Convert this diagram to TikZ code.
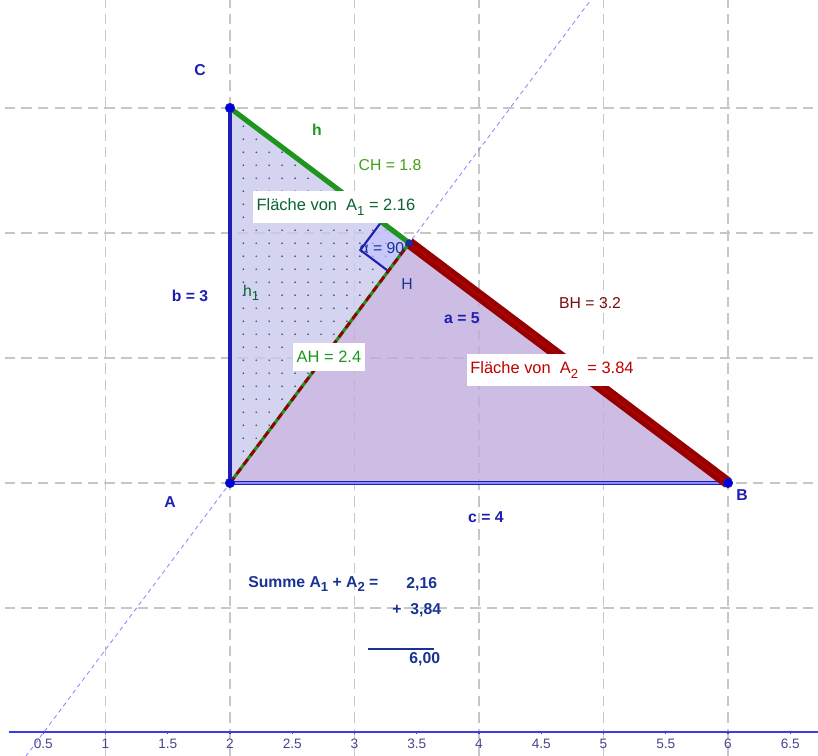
\documentclass[tikz,border=0pt]{standalone}
\usepackage{fontspec}
\setmainfont{Liberation Sans}
\usetikzlibrary{calc}
\definecolor{ggblue}{RGB}{30,30,180}
\definecolor{ggdblue}{RGB}{25,50,150}
\definecolor{gggreen}{RGB}{30,150,30}
\definecolor{gglime}{RGB}{60,160,20}
\definecolor{ggdgreen}{RGB}{10,100,50}
\definecolor{ggred}{RGB}{150,0,0}
\definecolor{ggdred}{RGB}{120,10,10}
\definecolor{ggfillone}{RGB}{201,201,238}
\definecolor{ggfilltwo}{RGB}{193,171,221}
\definecolor{ggaxis}{RGB}{60,60,230}
\definecolor{ggtick}{RGB}{70,70,140}
\newcommand{\idx}[1]{\raisebox{-0.55ex}{\fontsize{7.5}{8}\selectfont#1}}
\tikzset{
  gridline/.style={color=black!22, line width=0.9pt, dash pattern=on 6pt off 3.5pt},
  auxline/.style={color=blue!45, line width=0.5pt, dash pattern=on 2.5pt off 2pt},
  ptdot/.style={circle, fill=blue!85!black, draw=ggblue, line width=0.4pt, inner sep=0pt, minimum size=5.4pt},
  boxlabel/.style={fill=white, inner xsep=2pt, inner ysep=4.5pt, font=\fontsize{9.4}{11}\selectfont},
  every node/.style={font=\fontsize{9}{11}\selectfont}
}
\begin{document}
\begin{tikzpicture}[x=2.5cm, y=2.51cm]
		%%%%% START %%%%%
		\useasboundingbox (0.1526,-2.184) rectangle (6.723,3.864);
		
		\coordinate (A) at (2,0);
		\coordinate (B) at (6,0);
		\coordinate (C) at (2,3);
		\coordinate (H) at (3.44,1.92);
		
		% grid
		\foreach \x in {1,...,6}
			\draw[gridline] (\x,-2.184) -- (\x,3.864);
		\foreach \y in {-1,...,3}
			\draw[gridline] (0.19,\y) -- (6.723,\y);
		
		% x axis
		\draw[color=ggaxis, line width=1.1pt] (0.225,-1.99) -- (6.723,-1.99);
		\foreach \x in {0.5,1,1.5,2,2.5,3,3.5,4,4.5,5,5.5,6,6.5} {
			\draw[color=ggaxis, line width=0.8pt] (\x,-1.99) -- (\x,-2.01);
			\node[text=ggtick, font=\fontsize{7.8}{9}\selectfont] (tick\x) at (\x,-2.086) {\x};
		}
		
		% areas
		\fill[ggfilltwo, fill opacity=0.8] (A) -- (H) -- (B) -- cycle;
		\fill[ggfillone, fill opacity=0.8] (A) -- (H) -- (C) -- cycle;
		\begin{scope}
			\clip (A) -- (H) -- (C) -- cycle;
			\foreach \x in {2.003,2.107,...,3.46}
				\foreach \y in {0.046,0.150,...,3.0}
					\fill[color=black!65!blue!70] (\x,\y) circle (0.55pt);
		\end{scope}
		
		% right angle at H
		\coordinate (sqC) at ($(H)!0.156!(C)$);
		\coordinate (sqA) at ($(H)!0.117!(A)$);
		\coordinate (sqM) at ($(sqC)+(sqA)-(H)$);
		\draw[color=ggblue, fill=blue!25, fill opacity=0.6, line width=1.2pt] (H) -- (sqC) -- (sqM) -- (sqA) -- cycle;
		
		% dashed line through A and H
		\draw[auxline] ($(A)!-1.14!(H)$) -- ($(A)!2.02!(H)$);
		
		% sides
		\draw[color=ggblue, line width=2.3pt] (A) -- (C);
		\draw[color=ggblue, line width=0.8pt, double=blue!45, double distance=0.7pt] (A) -- (B);
		\draw[color=gggreen, line width=2.9pt] (C) -- (H);
		\draw[color=ggred, line width=2.9pt, double=red!75!black, double distance=0.6pt] (H) -- (B);
		\draw[color=gggreen, line width=1.8pt] (A) -- (H);
		\draw[color=ggred, line width=1.6pt, dash pattern=on 4pt off 2.5pt] (A) -- (H);
		
		% points
		\node[ptdot] (ptA) at (A) {};
		\node[ptdot] (ptB) at (B) {};
		\node[ptdot] (ptC) at (C) {};
		\node[ptdot, minimum size=3.8pt, fill=ggdblue] (ptH) at (H) {};
		
		% labels
		\node[text=ggblue, font=\fontsize{9}{11}\selectfont\bfseries] (lblC) at (1.759,3.304) {C};
		\node[text=ggblue, font=\fontsize{9}{11}\selectfont\bfseries] (lblA) at (1.518,-0.152) {A};
		\node[text=ggblue, font=\fontsize{9}{11}\selectfont\bfseries] (lblB) at (6.112,-0.096) {B};
		\node[text=ggdblue] (lblH) at (3.422,1.592) {H};
		\node[text=gggreen, font=\fontsize{9}{11}\selectfont\bfseries] (lblh) at (2.699,2.824) {h};
		\node[text=ggdgreen] (lblhone) at (2.169,1.52) {h\idx{1}};
		\node[text=ggblue, font=\fontsize{9}{11}\selectfont\bfseries] (lblb) at (1.679,1.496) {b = 3};
		\node[text=ggblue, font=\fontsize{9}{11}\selectfont\bfseries] (lbla) at (3.863,1.32) {a = 5};
		\node[text=ggblue, font=\fontsize{9}{11}\selectfont\bfseries] (lblc) at (4.056,-0.272) {c = 4};
		\node[text=gglime] (lblCH) at (3.285,2.544) {CH = 1.8};
		\node[text=ggdred] (lblBH) at (4.892,1.44) {BH = 3.2};
		\node[boxlabel, text=gggreen] (lblAH) at (2.795,1.008) {AH = 2.4};
		\node[text=ggdblue] (lblalpha) at (3.245,1.88) {α = 90°};
		\node[boxlabel, text=ggdgreen] (areaone) at (2.851,2.208) {Fläche von\ \ A\idx{1} = 2.16};
		\node[boxlabel, text=red!75!black] (areatwo) at (4.586,0.904) {Fläche von\ \ A\idx{2}\ \ = 3.84};
		
		% sum
		\node[text=ggdblue, anchor=west, font=\fontsize{9}{11}\selectfont\bfseries] (sumtext) at (2.097,-0.808) {Summe A\idx{1} + A\idx{2} =};
		\node[text=ggdblue, anchor=east, font=\fontsize{9}{11}\selectfont\bfseries] (sumone) at (3.713,-0.808) {2,16};
		\node[text=ggdblue, anchor=east, font=\fontsize{9}{11}\selectfont\bfseries] (sumtwo) at (3.745,-1.016) {+ \ 3,84};
		\coordinate (sumL) at (3.108,-1.328);
		\coordinate (sumR) at (3.639,-1.328);
		\draw[color=ggdblue, line width=0.7pt] (sumL) -- (sumR);
		\node[text=ggdblue, anchor=east, font=\fontsize{9}{11}\selectfont\bfseries] (sumres) at (3.737,-1.408) {6,00};
		%%%%% END %%%%%
\end{tikzpicture}
\end{document}
